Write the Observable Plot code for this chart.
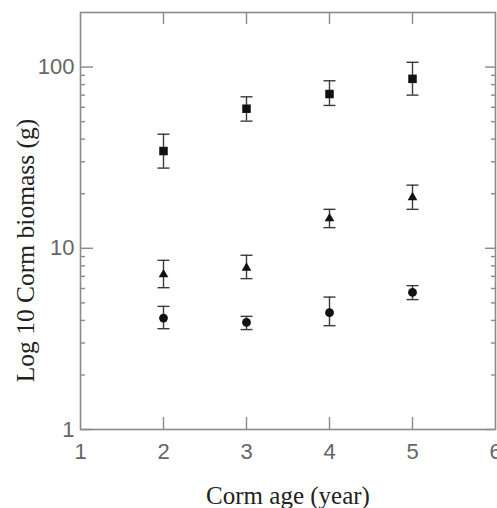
<!DOCTYPE html>
<html>
<head>
<meta charset="utf-8">
<script src="https://cdn.jsdelivr.net/npm/d3@7"></script>
<script src="https://cdn.jsdelivr.net/npm/@observablehq/plot@0.6"></script>
<style>
  html, body { margin: 0; padding: 0; background: #fff; }
</style>
</head>
<body>
<div id="chart"></div>
<script>
// Data
const years = [2, 3, 4, 5];
const squareMean = [34.4, 58.9, 71.0, 86.1];
const squareLo   = [27.7, 50.3, 61.4, 70.0];
const squareHi   = [42.6, 68.5, 84.0, 106.2];
const triMean = [7.16, 7.8, 14.6, 19.1];
const triLo   = [6.06, 6.8, 13.0, 16.4];
const triHi   = [8.58, 9.15, 16.4, 22.3];
const circMean = [4.12, 3.9, 4.41, 5.71];
const circLo   = [3.6, 3.56, 3.74, 5.21];
const circHi   = [4.78, 4.21, 5.38, 6.22];

const xTickLabels = [1, 2, 3, 4, 5, 6];
const xInnerTicks = [2, 3, 4, 5];
const yMajor = [1, 10, 100];
const yMinor = [2, 3, 4, 5, 6, 7, 8, 9, 20, 30, 40, 50, 60, 70, 80, 90];
const xTitle = "Corm age (year)";
const yTitle = "Log 10 Corm biomass (g)";

const build = (symbol, mean, lo, hi) => years.map((x, i) => ({symbol, x, mean: mean[i], lo: lo[i], hi: hi[i]}));
const squares = build("square", squareMean, squareLo, squareHi);
const triangles = build("triangle", triMean, triLo, triHi);
const circles = build("circle", circMean, circLo, circHi);
const all = [...squares, ...triangles, ...circles];

const W = 497, H = 508;
const mL = 80, mR = 2, mT = 12, mB = 79;
const pw = W - mL - mR, ph = H - mT - mB;

const cap = {
  draw(context) { context.moveTo(-6, 0); context.lineTo(6, 0); }
};

const axisGray = "#8a8a8a";
const labelGray = "#666";

const chart = Plot.plot({
  width: W,
  height: H,
  marginLeft: mL, marginRight: mR, marginTop: mT, marginBottom: mB,
  style: {fontFamily: "'Liberation Sans', Arial, sans-serif", background: "#fff", overflow: "visible"},
  x: {domain: [1, 6], label: null},
  y: {type: "log", domain: [1, 200], label: null},
  marks: [
    // inward ticks
    Plot.tickY(yMajor, {y: d => d, insetRight: pw - 13, stroke: axisGray, strokeWidth: 1.4}),
    Plot.tickY(yMinor, {y: d => d, insetRight: pw - 5, stroke: axisGray, strokeWidth: 1.4}),
    Plot.tickY(yMajor, {y: d => d, insetLeft: pw - 10, stroke: axisGray, strokeWidth: 1.4}),
    Plot.tickY(yMinor, {y: d => d, insetLeft: pw - 4, stroke: axisGray, strokeWidth: 1.4}),
    Plot.tickX(xInnerTicks, {x: d => d, insetBottom: ph - 12, stroke: axisGray, strokeWidth: 1.4}),
    Plot.tickX(xInnerTicks, {x: d => d, insetTop: ph - 12, stroke: axisGray, strokeWidth: 1.4}),
    Plot.frame({stroke: axisGray, strokeWidth: 1.6}),
    // tick labels
    Plot.axisY({ticks: yMajor, tickSize: 0, tickPadding: 6, tickFormat: d => `${d}`, fontSize: 22, fill: labelGray, label: null}),
    Plot.axisX({ticks: xTickLabels, tickSize: 0, tickPadding: 14, tickFormat: d => `${d}`, fontSize: 22, fill: labelGray, label: null}),
    // error bars
    Plot.ruleX(all, {x: "x", y1: "lo", y2: "hi", stroke: "#3a3a3a", strokeWidth: 1.4}),
    Plot.dot(all, {x: "x", y: "lo", symbol: cap, stroke: "#3a3a3a", strokeWidth: 1.4, fill: "none"}),
    Plot.dot(all, {x: "x", y: "hi", symbol: cap, stroke: "#3a3a3a", strokeWidth: 1.4, fill: "none"}),
    // markers
    Plot.dot(squares, {x: "x", y: "mean", symbol: "square", r: 4.8, fill: "#111", stroke: "none"}),
    Plot.dot(triangles, {x: "x", y: "mean", symbol: "triangle", r: 3.6, fill: "#111", stroke: "none"}),
    Plot.dot(circles, {x: "x", y: "mean", symbol: "circle", r: 4.4, fill: "#111", stroke: "none"}),
    // axis titles
    Plot.text([xTitle], {frameAnchor: "bottom", dy: 74, text: d => d, lineAnchor: "bottom", textAnchor: "middle", fontSize: 25, fontFamily: "'Liberation Serif', 'DejaVu Serif', serif", fill: "#222"}),
    Plot.text([yTitle], {frameAnchor: "left", dx: -47, dy: 29.5, rotate: -90, text: d => d, lineAnchor: "bottom", textAnchor: "middle", fontSize: 25.5, fontFamily: "'Liberation Serif', 'DejaVu Serif', serif", fill: "#222"})
  ]
});
document.getElementById("chart").appendChild(chart);
</script>
</body>
</html>
